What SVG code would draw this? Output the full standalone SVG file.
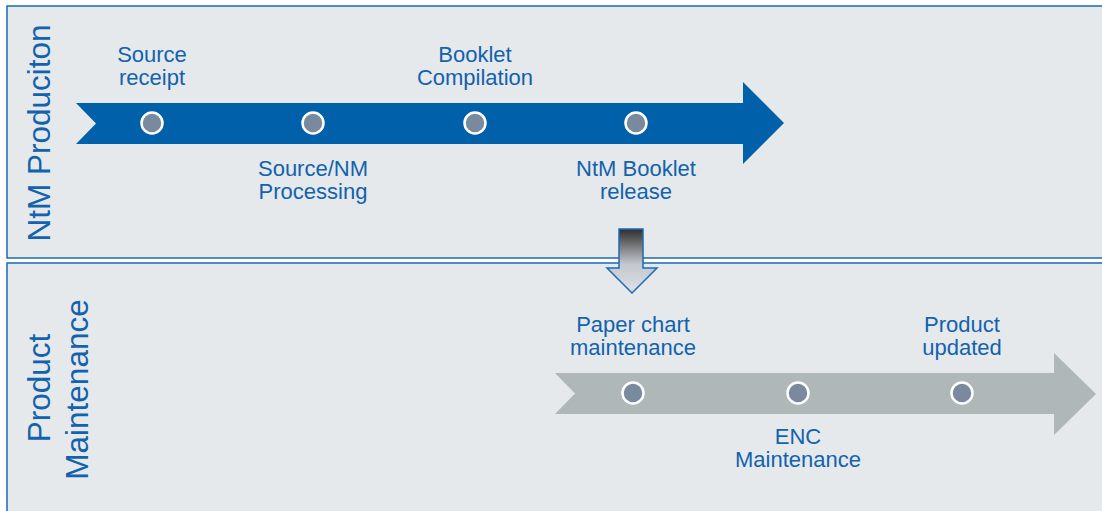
<svg xmlns="http://www.w3.org/2000/svg" width="1102" height="511" viewBox="0 0 1102 511">
<defs>
<linearGradient id="dg" x1="0" y1="0" x2="0" y2="1">
<stop offset="0" stop-color="#2e2e2e"/>
<stop offset="0.55" stop-color="#c4c8ce"/>
<stop offset="1" stop-color="#dde1e8"/>
</linearGradient>
<style>
.panel{fill:#e6e9ec;stroke:#1a6ab8;stroke-width:1.5}
.lbl{font-family:"Liberation Sans",Arial,sans-serif;font-size:22px;fill:#1262ad;text-anchor:middle}
.side{font-family:"Liberation Sans",Arial,sans-serif;font-size:31.5px;fill:#1262ad;text-anchor:middle}
.dot{fill:#798a9e;stroke:#ffffff;stroke-width:2.5}
</style>
</defs>
<rect width="1102" height="511" fill="#ffffff"/>
<g id="panel-ntm">
<rect class="panel" x="7" y="6" width="1100" height="252"/>
<text class="side" transform="translate(50,133) rotate(-90)">NtM Produciton</text>
</g>
<g id="panel-product">
<rect class="panel" x="7" y="263" width="1100" height="260"/>
<text class="side" transform="translate(50,388) rotate(-90)">Product</text>
<text class="side" transform="translate(88,389.5) rotate(-90)">Maintenance</text>
</g>
<g id="arrow-ntm">
<polygon points="76,103 743,103 743,82 784,123 743,164 743,144 76,144 96,123.5" fill="#0060aa"/>
</g>
<g id="arrow-product">
<polygon points="555,373 1054,373 1054,353 1096,394 1054,435 1054,414 555,414 575,393.5" fill="#b0b7b8"/>
</g>
<g id="connectors">
<polygon id="down-arrow" points="619,229 643,229 643,268 657,268 632,293 607,268 619,268" fill="url(#dg)" stroke="#1a6ab8" stroke-width="1.5"/>
</g>
<g id="node-source-receipt">
<circle class="dot" cx="152" cy="123" r="10.5"/>
<text class="lbl" x="152" y="62">Source</text>
<text class="lbl" x="152" y="85">receipt</text>
</g>
<g id="node-source-nm">
<circle class="dot" cx="313" cy="123" r="10.5"/>
<text class="lbl" x="313" y="176">Source/NM</text>
<text class="lbl" x="313" y="199">Processing</text>
</g>
<g id="node-booklet-compilation">
<circle class="dot" cx="475" cy="123" r="10.5"/>
<text class="lbl" x="475" y="62">Booklet</text>
<text class="lbl" x="475" y="85">Compilation</text>
</g>
<g id="node-booklet-release">
<circle class="dot" cx="636" cy="123" r="10.5"/>
<text class="lbl" x="636" y="176">NtM Booklet</text>
<text class="lbl" x="636" y="199">release</text>
</g>
<g id="node-paper-chart">
<circle class="dot" cx="633" cy="393" r="10.5"/>
<text class="lbl" x="633" y="332">Paper chart</text>
<text class="lbl" x="633" y="355">maintenance</text>
</g>
<g id="node-enc">
<circle class="dot" cx="798" cy="393" r="10.5"/>
<text class="lbl" x="798" y="444">ENC</text>
<text class="lbl" x="798" y="467">Maintenance</text>
</g>
<g id="node-product-updated">
<circle class="dot" cx="962" cy="393" r="10.5"/>
<text class="lbl" x="962" y="332">Product</text>
<text class="lbl" x="962" y="355">updated</text>
</g>
</svg>
